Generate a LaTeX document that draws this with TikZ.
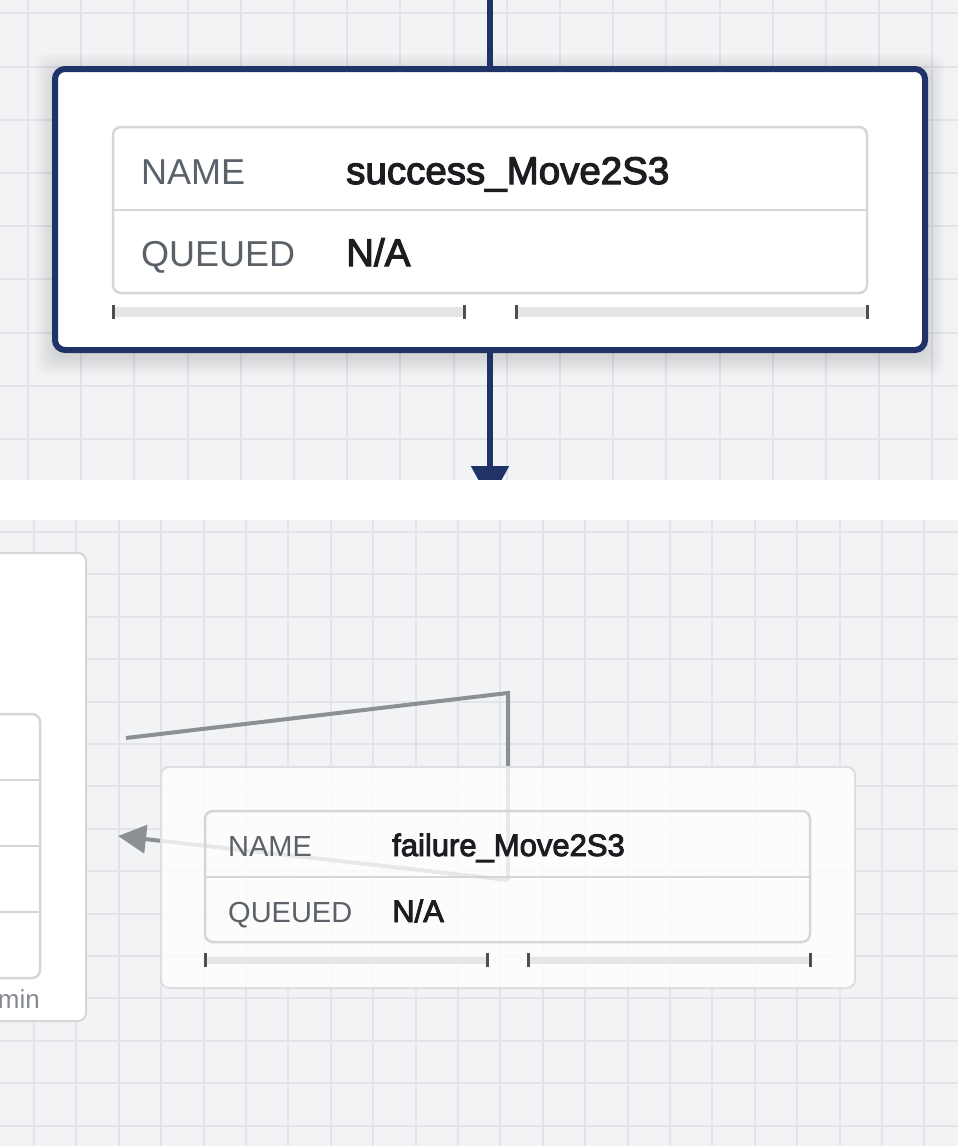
\documentclass[tikz,border=0pt]{standalone}
\usepackage{fontspec}
\setmainfont{Liberation Sans}
\newfontfamily\valfont{Liberation Sans}[FakeBold=3]
\usetikzlibrary{arrows.meta}

\definecolor{navy}{HTML}{1F3368}
\definecolor{bgcol}{HTML}{F2F3F5}
\definecolor{gridcol}{HTML}{E3E4E7}
\definecolor{rulecol}{HTML}{D5D6DA}
\definecolor{lblcol}{HTML}{5B6168}
\definecolor{valcol}{HTML}{1B1D21}
\definecolor{barcol}{HTML}{E6E6E6}
\definecolor{tickcol}{HTML}{4B5057}
\definecolor{linkcol}{HTML}{8C8F94}
\definecolor{mincol}{HTML}{858A91}

\tikzset{
    gridline/.style={draw=gridcol, line width=2pt},
    card/.style={draw=navy, line width=6pt, rounded corners=10pt, fill=white, inner sep=0pt},
    faded/.style={draw=rulecol!80, line width=2pt, rounded corners=8pt, fill=white, fill opacity=0.8, inner sep=0pt},
    plain/.style={draw=rulecol, line width=2pt, rounded corners=8pt, fill=white},
    tablebox/.style={draw=rulecol, line width=2.5pt, rounded corners=8pt},
    tablerule/.style={draw=rulecol, line width=2.5pt},
    bar/.style={fill=barcol},
    tick/.style={draw=tickcol, line width=3pt},
    navyline/.style={draw=navy, line width=5.5pt},
    greyline/.style={draw=linkcol, line width=4pt},
    lblbig/.style={anchor=base west, inner sep=0pt, text=lblcol, font=\fontsize{36}{40}\selectfont},
    valbig/.style={anchor=base west, inner sep=0pt, text=valcol, font=\valfont\fontsize{38.5}{42}\selectfont},
    lblsmall/.style={anchor=base west, inner sep=0pt, text=lblcol, font=\fontsize{29}{32}\selectfont},
    valsmall/.style={anchor=base west, inner sep=0pt, text=valcol, font=\valfont\fontsize{31}{34}\selectfont}
}

\begin{document}
\begin{tikzpicture}[x=1pt, y=-1pt]

    \useasboundingbox (0,0) rectangle (958,1146);

    \begin{scope}
        \clip (0,0) rectangle (958,480);
        \fill[bgcol] (0,0) rectangle (958,480);
        \foreach \gx in {0,...,17} \draw[gridline] ({28+53.2*\gx},0) -- ({28+53.2*\gx},480);
        \foreach \gy in {0,...,8} \draw[gridline] (0,{13.3+53.2*\gy}) -- (958,{13.3+53.2*\gy});

        \foreach \s in {2,4,...,20}
            \fill[black, opacity=0.012, rounded corners=12pt] ({55-\s},{73-\s}) rectangle ({925+\s},{356+\s});

        \node[card, minimum width=870pt, minimum height=281pt] (succ) at (490,209.5) {};

        \draw[tablebox] (113,127) rectangle (867,293);
        \draw[tablerule] (113,210) -- (867,210);
        \node[lblbig] (succname) at (141,184) {NAME};
        \node[lblbig] (succqueue) at (141,266) {QUEUED};
        \node[valbig] (succval) at (346,184) {success\_Move2S3};
        \node[valbig] (succna) at (346,266) {N/A};

        \fill[bar] (113,307) rectangle (464,317);
        \fill[bar] (516,307) rectangle (867,317);
        \draw[tick] (113,305) -- (113,319);
        \draw[tick] (464,305) -- (464,319);
        \draw[tick] (516,305) -- (516,319);
        \draw[tick] (867,305) -- (867,319);

        \coordinate (topin) at (490,0);
        \coordinate (downout) at (490,501);
        \draw[navyline] (topin) -- (succ.north);
        \draw[navyline, -{Triangle[width=37pt,length=35pt]}] (succ.south) -- (downout);
    \end{scope}

    \fill[white] (0,480) rectangle (958,520);

    \begin{scope}
        \clip (0,520) rectangle (958,1146);
        \fill[bgcol] (0,520) rectangle (958,1146);
        \foreach \gx in {0,...,22} \draw[gridline] ({34+42.4*\gx},520) -- ({34+42.4*\gx},1146);
        \foreach \gy in {0,...,14} \draw[gridline] (0,{532+42.4*\gy}) -- (958,{532+42.4*\gy});

        \draw[plain] (-40,553) rectangle (86,1021);
        \draw[tablebox] (-40,714) rectangle (40,978);
        \draw[tablerule] (-40,780) -- (40,780);
        \draw[tablerule] (-40,846) -- (40,846);
        \draw[tablerule] (-40,912) -- (40,912);
        \node[anchor=base east, inner sep=0pt, text=mincol, font=\fontsize{26}{30}\selectfont] (prevmin) at (40,1008) {min};

        \coordinate (loopin) at (126,738);
        \coordinate (bendA) at (508,693);
        \coordinate (bendB) at (508,880);
        \coordinate (backtip) at (118,836);
        \draw[greyline] (loopin) -- (bendA) -- (bendB);
        \draw[greyline, -{Triangle[width=28pt,length=28pt]}] (bendB) -- (backtip);

        \node[faded, minimum width=694pt, minimum height=221pt] (fail) at (508,877.5) {};

        \draw[tablebox] (205,811) rectangle (810,942);
        \draw[tablerule] (205,877) -- (810,877);
        \node[lblsmall] (failname) at (228,856) {NAME};
        \node[lblsmall] (failqueue) at (228,922) {QUEUED};
        \node[valsmall] (failval) at (392,856) {failure\_Move2S3};
        \node[valsmall] (failna) at (392,922) {N/A};

        \fill[bar] (205,957) rectangle (487,964);
        \fill[bar] (528,957) rectangle (810,964);
        \draw[tick] (205,953) -- (205,967);
        \draw[tick] (487,953) -- (487,967);
        \draw[tick] (528,953) -- (528,967);
        \draw[tick] (810,953) -- (810,967);
    \end{scope}

\end{tikzpicture}
\end{document}
